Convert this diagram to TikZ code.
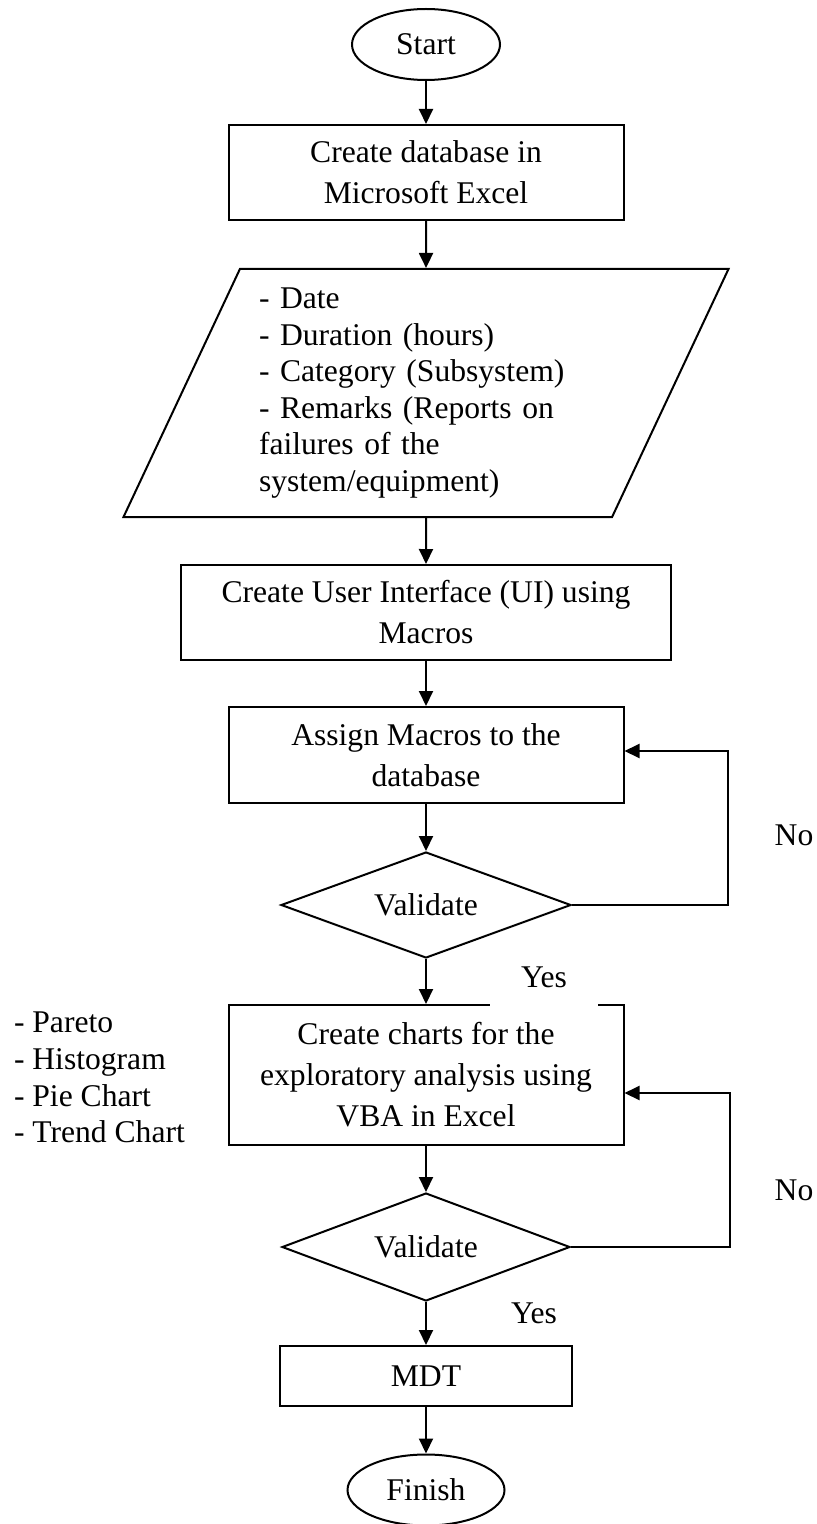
\documentclass[tikz,border=0pt]{standalone}
\usepackage{fontspec}
\setmainfont{Liberation Serif}
\usetikzlibrary{shapes.geometric}
\usetikzlibrary{arrows.meta}

\begin{document}
\begin{tikzpicture}[x=0.5pt,y=-0.5pt,line width=1pt,>={Triangle[length=7.5pt,width=7pt]},
  every node/.style={font=\fontsize{15.8pt}{20.5pt}\selectfont},
  term/.style={draw,ellipse,minimum width=74pt,minimum height=35.5pt,inner sep=0pt},
  proc/.style={draw,rectangle,minimum width=197.5pt,minimum height=47.5pt,align=center,inner sep=0pt},
  dec/.style={draw,diamond,aspect=2.7,minimum width=145pt,minimum height=53pt,inner sep=0pt},
  io/.style={draw,trapezium,trapezium left angle=63.6,trapezium right angle=116.4,trapezium stretches=true,
    minimum width=303pt,minimum height=124pt,inner sep=0pt,text width=167pt,align=left,
    font=\fontsize{15.8pt}{18.3pt}\selectfont},
  items/.style={align=left,inner sep=0pt,font=\fontsize{15.8pt}{18.3pt}\selectfont}]
\useasboundingbox (0,0) rectangle (817,1524);
\node[term] (start) at (426,44.5) {Start};
\node[proc] (dbase) at (426,172.5) {Create database in\\Microsoft Excel};
\node[io] (fields) at (426,393) {- Date\\- Duration (hours)\\- Category (Subsystem)\\- Remarks (Reports on\\failures of the\\system/equipment)};
\node[proc,minimum width=245pt] (ui) at (426,612.5) {Create User Interface (UI) using\\Macros};
\node[proc,minimum height=48pt] (assign) at (426,755) {Assign Macros to the\\database};
\node[dec] (valid1) at (426,905) {Validate};
\node[proc,minimum height=70pt] (charts) at (426,1075) {Create charts for the\\exploratory analysis using\\VBA in Excel};
\node[dec,minimum width=144pt,minimum height=54pt] (valid2) at (426,1247) {Validate};
\node[proc,minimum width=146pt,minimum height=30pt] (mdt) at (426,1376) {MDT};
\node[term,minimum width=78.5pt] (finish) at (426,1490) {Finish};
\node[items,anchor=west] (types) at (13,1077.5) {- Pareto\\- Histogram\\- Pie Chart\\- Trend Chart};
\node (no1) at (794,835) {No};
\node (no2) at (794,1190) {No};
\node[fill=white,minimum width=54pt,minimum height=30pt] (yes1) at (544,977) {Yes};
\node (yes2) at (534,1313) {Yes};
\draw[->] (start) -- (dbase);
\draw[->] (dbase) -- (fields);
\draw[->] (fields) -- (ui);
\draw[->] (ui) -- (assign);
\draw[->] (assign) -- (valid1);
\draw[->] (valid1) -- (charts);
\draw[->] (charts) -- (valid2);
\draw[->] (valid2) -- (mdt);
\draw[->] (mdt) -- (finish);
\draw[->] (valid1.east) -- ++(156,0) |- ([yshift=2pt]assign.east);
\draw[->] (valid2.east) -- ++(159,0) |- ([yshift=-9pt]charts.east);
\end{tikzpicture}
\end{document}
